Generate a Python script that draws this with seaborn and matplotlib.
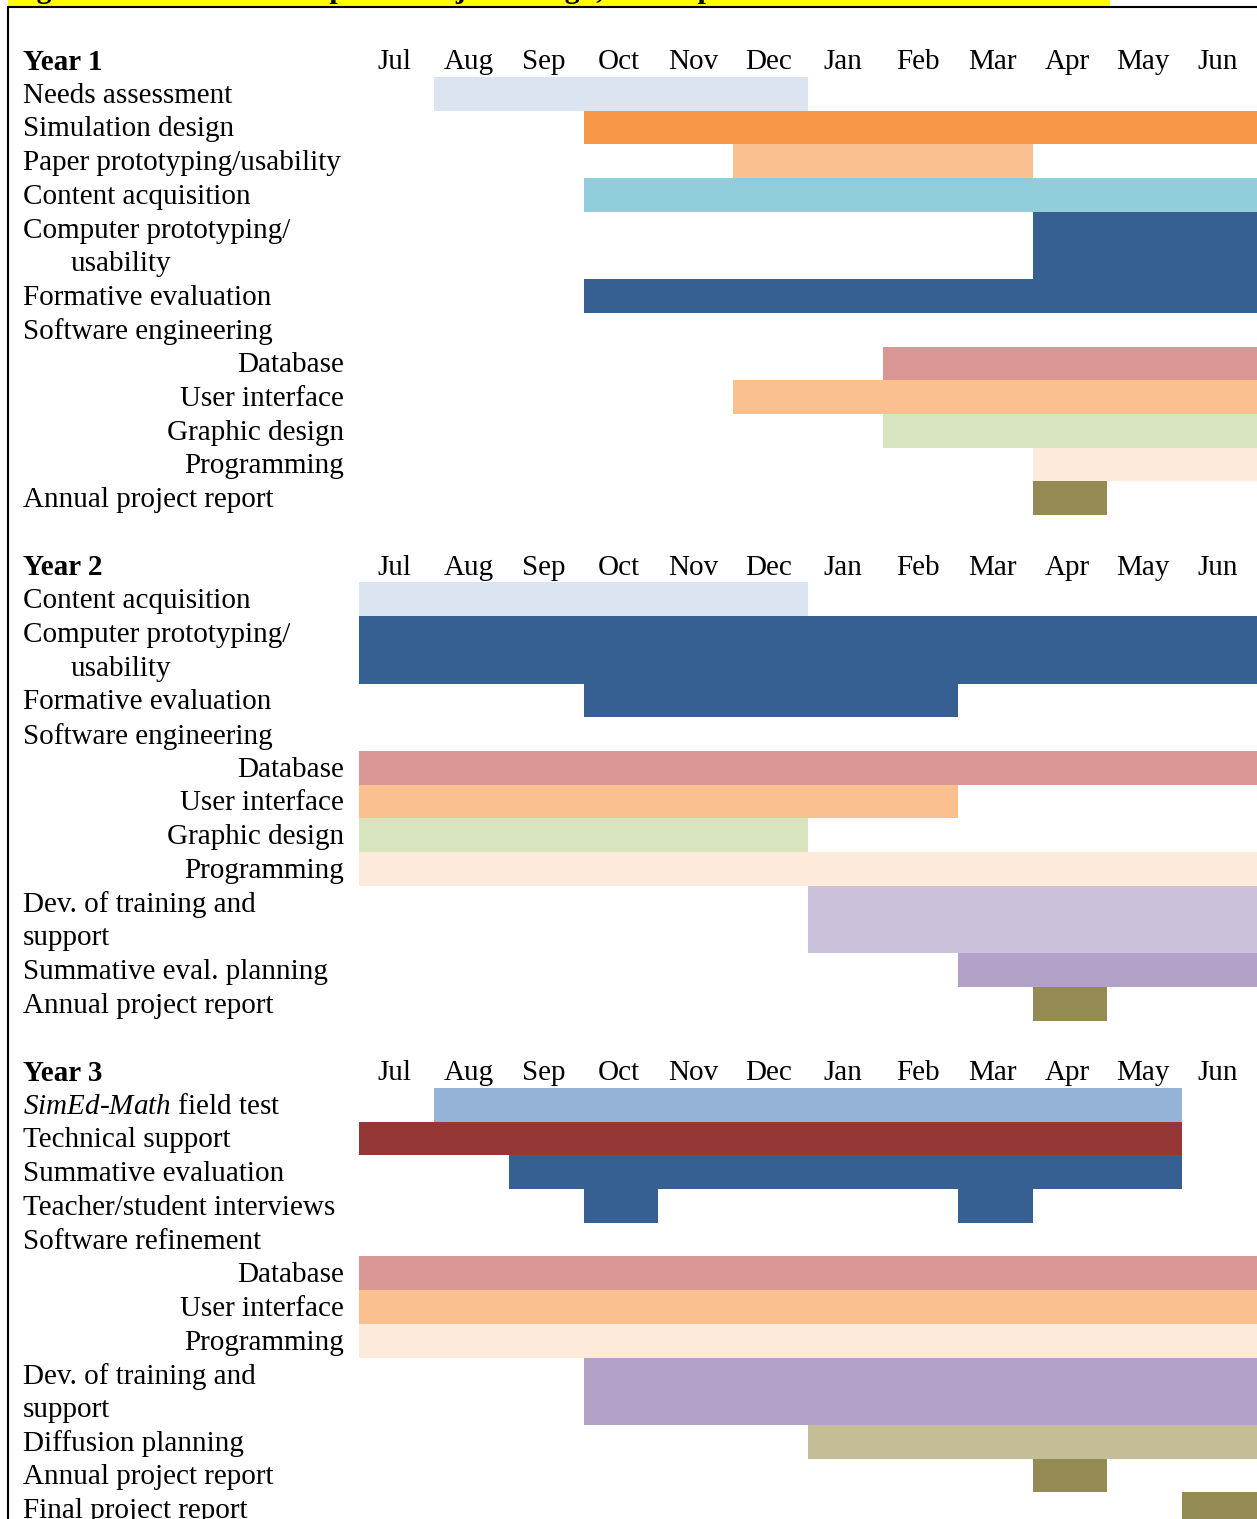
import numpy as np
import pandas as pd
import seaborn as sns
import matplotlib.pyplot as plt
from matplotlib.patches import Rectangle
from matplotlib.transforms import blended_transform_factory

# ---- data -----------------------------------------------------------------
TITLE = "Figure 3. Timeline of Proposed Project Design, Development and Evaluation Activities"
MONTHS = ["Jul", "Aug", "Sep", "Oct", "Nov", "Dec", "Jan", "Feb", "Mar", "Apr", "May", "Jun"]
SUBTASKS = {"Database", "User interface", "Graphic design", "Programming"}

# month index 0 = Jul ... 11 = Jun, end is exclusive; "\t" marks an indented second line
y1_tasks = ["Needs assessment", "Simulation design", "Paper prototyping/usability",
            "Content acquisition", "Computer prototyping/\n\tusability", "Formative evaluation",
            "Software engineering", "Database", "User interface", "Graphic design",
            "Programming", "Annual project report"]
y1_start = [[1], [3], [5], [3], [9], [3], [], [7], [5], [7], [9], [9]]
y1_end = [[6], [12], [9], [12], [12], [12], [], [12], [12], [12], [12], [10]]
y1_colors = ["#DBE5F1", "#F79646", "#FAC090", "#92CDDC", "#376092", "#376092", None,
             "#D99694", "#FAC090", "#D7E4BD", "#FDEADA", "#948A54"]

y2_tasks = ["Content acquisition", "Computer prototyping/\n\tusability", "Formative evaluation",
            "Software engineering", "Database", "User interface", "Graphic design",
            "Programming", "Dev. of training and\nsupport", "Summative eval. planning",
            "Annual project report"]
y2_start = [[0], [0], [3], [], [0], [0], [0], [0], [6], [8], [9]]
y2_end = [[6], [12], [8], [], [12], [8], [6], [12], [12], [12], [10]]
y2_colors = ["#DBE5F1", "#376092", "#376092", None, "#D99694", "#FAC090", "#D7E4BD",
             "#FDEADA", "#CCC1DA", "#B3A2C7", "#948A54"]

y3_tasks = ["$\\mathit{SimEd}$-$\\mathit{Math}$ field test", "Technical support",
            "Summative evaluation", "Teacher/student interviews", "Software refinement",
            "Database", "User interface", "Programming", "Dev. of training and\nsupport",
            "Diffusion planning", "Annual project report", "Final project report"]
y3_start = [[1], [0], [2], [3, 8], [], [0], [0], [0], [3], [6], [9], [11]]
y3_end = [[11], [11], [11], [4, 9], [], [12], [12], [12], [12], [12], [10], [12]]
y3_colors = ["#95B3D7", "#953735", "#376092", "#376092", None, "#D99694", "#FAC090",
             "#FDEADA", "#B3A2C7", "#C4BD97", "#948A54", "#948A54"]

blocks = [("Year 1", y1_tasks, y1_start, y1_end, y1_colors),
          ("Year 2", y2_tasks, y2_start, y2_end, y2_colors),
          ("Year 3", y3_tasks, y3_start, y3_end, y3_colors)]

# ---- layout ---------------------------------------------------------------
W, H = 1257, 1519
LINE_PX = 33.7
TOP_PX = 43.2
FS = 21
DY = 0.06  # nudge text down a little inside its line

sns.set_theme(style="white")
plt.rcParams['font.family'] = ['Liberation Serif', 'DejaVu Serif']
plt.rcParams['text.color'] = 'black'
plt.rcParams['mathtext.fontset'] = 'custom'
plt.rcParams['mathtext.rm'] = 'Liberation Serif'
plt.rcParams['mathtext.it'] = 'Liberation Serif:italic'

# build row table: one line unit per text line, blank line between years
records, headers, labels = [], [], []
line = 0
for year, tasks, starts, ends, colors in blocks:
    headers.append((year, line))
    line += 1
    for task, s, e, c in zip(tasks, starts, ends, colors):
        n = task.count("\n") + 1
        labels.append((task, line))
        for a, b in zip(s, e):
            records.append(dict(year=year, task=task, row=line, lines=n, start=a, end=b, color=c))
        line += n
    line += 1
total_lines = line - 1
bars = pd.DataFrame(records)

fig = plt.figure(figsize=(W / 100, H / 100), dpi=100)
top = 1 - TOP_PX / H
height = total_lines * LINE_PX / H
ax = fig.add_axes([359 / W, top - height, 898 / W, height])
ax.set_xlim(0, 12)
ax.set_ylim(total_lines, 0)
ax.axis("off")

ax.barh(bars["row"], bars["end"] - bars["start"], left=bars["start"], height=bars["lines"],
        align="edge", color=bars["color"], linewidth=0)

trans = blended_transform_factory(fig.transFigure, ax.transData)

for year, row in headers:
    ax.text(23 / W, row + 0.5 + DY, year, transform=trans, fontsize=FS, fontweight="bold",
            va="center", ha="left")
    for i, m in enumerate(MONTHS):
        ax.text(i + 0.47, row + 0.5 + DY, m, fontsize=FS, va="center", ha="center")

for task, row in labels:
    for k, part in enumerate(task.split("\n")):
        y = row + k + 0.5 + DY
        if part in SUBTASKS:
            ax.text(344 / W, y, part, transform=trans, fontsize=FS, va="center", ha="right")
        elif part.startswith("\t"):
            ax.text(71 / W, y, part[1:], transform=trans, fontsize=FS, va="center", ha="left")
        else:
            ax.text(23 / W, y, part, transform=trans, fontsize=FS, va="center", ha="left")

# cut-off highlighted caption and page frame
fig.text(10 / W, 1 + 1.5 / H, TITLE, fontsize=21.5, fontweight="bold", va="baseline", ha="left",
         bbox=dict(facecolor="#FFFF00", edgecolor="none", pad=1.2))
fig.add_artist(Rectangle((8 / W, -0.1), 1.2, 1.1 - 7 / H, transform=fig.transFigure,
                         fill=False, edgecolor="black", linewidth=1.5, zorder=10))

fig.savefig("out.png", dpi=100)
